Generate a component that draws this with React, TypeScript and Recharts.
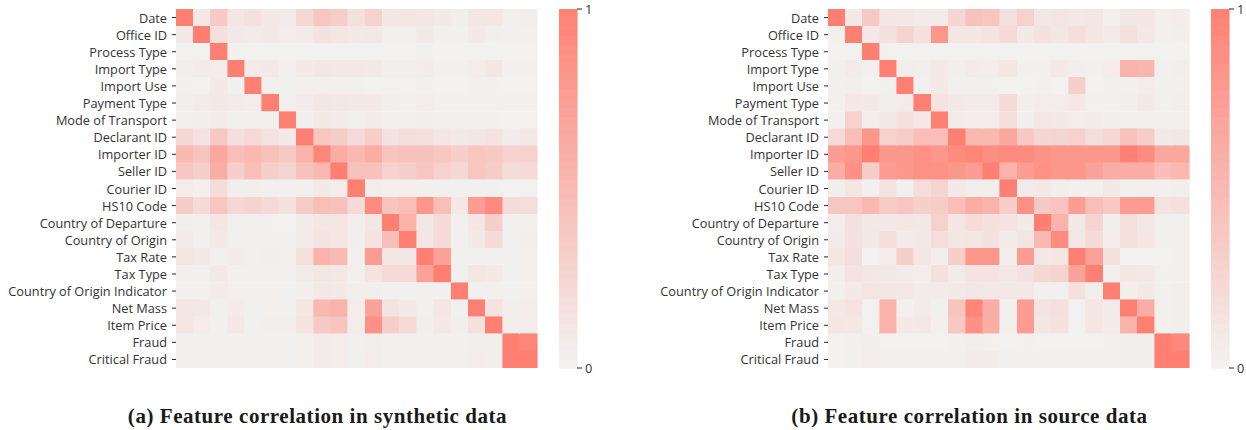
import { BarChart, Bar, XAxis, YAxis, Cell } from "recharts"

const features = [
	"Date",
	"Office ID",
	"Process Type",
	"Import Type",
	"Import Use",
	"Payment Type",
	"Mode of Transport",
	"Declarant ID",
	"Importer ID",
	"Seller ID",
	"Courier ID",
	"HS10 Code",
	"Country of Departure",
	"Country of Origin",
	"Tax Rate",
	"Tax Type",
	"Country of Origin Indicator",
	"Net Mass",
	"Item Price",
	"Fraud",
	"Critical Fraud",
]

const syntheticCorr = [
	[1, 0.08, 0.35, 0.1, 0.14, 0.07, 0.05, 0.22, 0.38, 0.32, 0.14, 0.27, 0.09, 0.11, 0.1, 0.07, 0.03, 0.09, 0.1, 0.02, 0.03],
	[0.06, 1, 0.15, 0.06, 0.05, 0.06, 0.04, 0.05, 0.13, 0.1, 0.07, 0.08, 0.02, 0.02, 0.07, 0.02, 0.01, 0.06, 0.03, 0.01, 0.02],
	[0, 0, 1, 0, 0, 0, 0, 0, 0, 0, 0, 0, 0, 0, 0.01, 0, 0, 0, 0, 0, 0],
	[0.03, 0.05, 0.04, 1, 0.05, 0.06, 0.02, 0.06, 0.09, 0.08, 0.08, 0.07, 0.03, 0.03, 0.05, 0.01, 0.01, 0.04, 0.09, 0.01, 0.01],
	[0.01, 0, 0.07, 0.01, 1, 0.01, 0.01, 0.02, 0.02, 0.02, 0.01, 0, 0, 0, 0.01, 0, 0, 0.01, 0.01, 0, 0],
	[0.03, 0.05, 0.07, 0.05, 0.04, 1, 0.02, 0.05, 0.09, 0.08, 0.07, 0.07, 0.03, 0.02, 0.04, 0.01, 0.01, 0.01, 0.01, 0.01, 0.01],
	[0.02, 0.03, 0.05, 0.01, 0.01, 0.01, 1, 0.03, 0.07, 0.05, 0.02, 0.05, 0.02, 0.02, 0.03, 0.01, 0.01, 0.01, 0.01, 0, 0],
	[0.22, 0.12, 0.35, 0.16, 0.21, 0.12, 0.07, 1, 0.38, 0.33, 0.2, 0.3, 0.13, 0.17, 0.15, 0.1, 0.07, 0.09, 0.12, 0.05, 0.07],
	[0.5, 0.4, 0.65, 0.45, 0.5, 0.42, 0.35, 0.55, 0.95, 0.6, 0.5, 0.6, 0.4, 0.42, 0.42, 0.37, 0.3, 0.38, 0.35, 0.28, 0.28],
	[0.38, 0.3, 0.6, 0.3, 0.45, 0.3, 0.25, 0.42, 0.5, 1, 0.42, 0.42, 0.28, 0.3, 0.38, 0.28, 0.22, 0.38, 0.33, 0.18, 0.2],
	[0.04, 0.02, 0.18, 0.03, 0.03, 0.01, 0.01, 0.02, 0.06, 0.04, 1, 0.04, 0.02, 0.02, 0.01, 0.01, 0.01, 0.01, 0.01, 0, 0],
	[0.33, 0.2, 0.38, 0.22, 0.26, 0.2, 0.15, 0.33, 0.45, 0.42, 0.2, 0.9, 0.4, 0.45, 0.8, 0.45, 0.08, 0.75, 0.9, 0.18, 0.17],
	[0.03, 0.01, 0.1, 0.01, 0.01, 0.01, 0, 0.05, 0.1, 0.1, 0.03, 0.1, 1, 0.55, 0.09, 0.2, 0.01, 0.1, 0.3, 0.01, 0.01],
	[0.05, 0.01, 0.06, 0.01, 0.02, 0.01, 0.01, 0.05, 0.12, 0.1, 0.03, 0.12, 0.45, 1, 0.09, 0.2, 0.01, 0.07, 0.2, 0.01, 0.03],
	[0.1, 0.07, 0.01, 0.05, 0.01, 0.03, 0.02, 0.15, 0.55, 0.48, 0.01, 0.75, 0.1, 0.09, 1, 0.7, 0.01, 0.01, 0.01, 0.01, 0.02],
	[0.02, 0.01, 0.07, 0.02, 0.02, 0.01, 0.01, 0.05, 0.1, 0.08, 0.02, 0.12, 0.2, 0.2, 0.7, 1, 0.01, 0.1, 0.06, 0.01, 0.02],
	[0.02, 0.02, 0.05, 0.02, 0.02, 0.02, 0.01, 0.03, 0.08, 0.06, 0.03, 0.03, 0.01, 0.01, 0.01, 0.01, 1, 0.01, 0.02, 0.01, 0.02],
	[0.1, 0.08, 0.01, 0.05, 0.01, 0.02, 0.01, 0.1, 0.5, 0.55, 0.04, 0.7, 0.12, 0.07, 0.01, 0.1, 0.01, 1, 0.12, 0.03, 0.04],
	[0.1, 0.04, 0.01, 0.08, 0.01, 0.03, 0.03, 0.12, 0.35, 0.4, 0.04, 0.85, 0.3, 0.2, 0.03, 0.08, 0.03, 0.14, 1, 0.03, 0.04],
	[0.01, 0.01, 0.01, 0.01, 0.01, 0.01, 0.01, 0.02, 0.05, 0.04, 0.01, 0.03, 0.01, 0.01, 0.01, 0.01, 0.01, 0.03, 0.03, 1, 0.95],
	[0.01, 0.01, 0.02, 0.01, 0.01, 0.01, 0.01, 0.02, 0.05, 0.04, 0.01, 0.04, 0.01, 0.02, 0.02, 0.01, 0.01, 0.04, 0.03, 1, 1],
]

const sourceCorr = [
	[1, 0.07, 0.35, 0.1, 0.08, 0.05, 0.05, 0.24, 0.42, 0.38, 0.15, 0.28, 0.09, 0.11, 0.08, 0.09, 0.02, 0.09, 0.1, 0.02, 0.04],
	[0.02, 1, 0.08, 0.13, 0.26, 0.15, 0.8, 0.1, 0.1, 0.12, 0.2, 0.07, 0.13, 0.09, 0.16, 0.1, 0.05, 0.14, 0.08, 0.02, 0.03],
	[0, 0, 1, 0, 0, 0, 0, 0, 0, 0, 0, 0, 0, 0, 0, 0, 0, 0, 0, 0, 0],
	[0.02, 0.05, 0.01, 1, 0.04, 0.03, 0.07, 0.03, 0.05, 0.04, 0.1, 0.01, 0.02, 0.06, 0.03, 0.02, 0.04, 0.55, 0.52, 0.01, 0.03],
	[0.01, 0.03, 0, 0.01, 1, 0.01, 0.06, 0.01, 0.01, 0.01, 0, 0, 0.01, 0, 0.3, 0, 0.01, 0.01, 0.04, 0.01, 0.01],
	[0.02, 0.08, 0.06, 0.03, 0.05, 1, 0.12, 0.06, 0.05, 0.05, 0.2, 0.03, 0.04, 0.04, 0.08, 0.02, 0.02, 0.03, 0.06, 0.02, 0.03],
	[0.01, 0.28, 0.03, 0.07, 0.15, 0.08, 1, 0.05, 0.04, 0.04, 0.17, 0.03, 0.08, 0.06, 0.04, 0.05, 0.03, 0.02, 0.02, 0.02, 0.02],
	[0.2, 0.45, 0.8, 0.28, 0.32, 0.45, 0.45, 1, 0.5, 0.5, 0.65, 0.35, 0.24, 0.25, 0.28, 0.17, 0.22, 0.42, 0.32, 0.06, 0.09],
	[0.75, 0.8, 1, 0.8, 0.8, 0.85, 0.8, 0.9, 0.95, 0.87, 0.9, 0.9, 0.83, 0.8, 0.8, 0.8, 0.8, 1, 0.9, 0.65, 0.65],
	[0.6, 0.85, 0.33, 0.75, 0.8, 0.85, 0.85, 0.8, 0.75, 1, 0.55, 0.75, 0.85, 0.8, 0.8, 0.7, 0.6, 0.6, 0.6, 0.45, 0.5],
	[0.03, 0.1, 0.01, 0.12, 0.01, 0.17, 0.25, 0.07, 0.03, 0.03, 1, 0.05, 0.07, 0.03, 0.02, 0.02, 0.06, 0.01, 0.02, 0.02, 0.03],
	[0.38, 0.38, 0.5, 0.33, 0.38, 0.3, 0.33, 0.45, 0.6, 0.55, 0.3, 0.85, 0.35, 0.4, 0.75, 0.45, 0.35, 0.75, 0.75, 0.12, 0.15],
	[0.04, 0.15, 0.07, 0.06, 0.1, 0.08, 0.27, 0.1, 0.18, 0.14, 0.12, 0.07, 1, 0.55, 0.06, 0.25, 0.03, 0.14, 0.08, 0.01, 0.01],
	[0.05, 0.13, 0.08, 0.16, 0.05, 0.07, 0.17, 0.1, 0.11, 0.13, 0.05, 0.11, 0.5, 0.9, 0.08, 0.2, 0.04, 0.14, 0.1, 0.01, 0.02],
	[0.1, 0.17, 0, 0.04, 0.3, 0.09, 0.03, 0.3, 0.8, 0.8, 0.03, 0.75, 0.08, 0.1, 1, 0.7, 0.13, 0, 0, 0, 0.01],
	[0.03, 0.12, 0.1, 0.07, 0.05, 0.04, 0.14, 0.05, 0.12, 0.12, 0.08, 0.13, 0.22, 0.26, 0.7, 1, 0.02, 0.1, 0.08, 0.01, 0.02],
	[0.02, 0.06, 0.11, 0.09, 0.08, 0.05, 0.05, 0.07, 0.09, 0.08, 0.08, 0.08, 0.02, 0.01, 0.14, 0.03, 1, 0.03, 0.06, 0.02, 0.03],
	[0.08, 0.12, 0, 0.55, 0.01, 0.05, 0.01, 0.4, 0.95, 0.6, 0.01, 0.75, 0.12, 0.15, 0, 0.1, 0.05, 1, 0.6, 0.02, 0.03],
	[0.1, 0.08, 0, 0.55, 0.06, 0.08, 0.02, 0.35, 0.85, 0.6, 0.02, 0.75, 0.1, 0.13, 0, 0.1, 0.05, 0.55, 1, 0.02, 0.03],
	[0, 0.01, 0.03, 0, 0, 0, 0, 0.02, 0.03, 0.02, 0, 0.01, 0, 0, 0, 0, 0.02, 0.03, 0.03, 1, 0.93],
	[0, 0.01, 0.04, 0.01, 0.01, 0.01, 0.01, 0.02, 0.05, 0.05, 0.01, 0.01, 0.01, 0.01, 0.01, 0.01, 0.02, 0.03, 0.03, 1, 1],
]

// colour bar levels, bottom to top
const barLevels = [
	0, 0.025, 0.05, 0.075, 0.1, 0.125, 0.15, 0.175, 0.2, 0.225, 0.25, 0.275, 0.3, 0.325, 0.35, 0.375, 0.4, 0.425, 0.45,
	0.475, 0.5, 0.525, 0.55, 0.575, 0.6, 0.625, 0.65, 0.675, 0.7, 0.725, 0.75, 0.775, 0.8, 0.825, 0.85, 0.875, 0.9, 0.925,
	0.95, 0.975,
]

const low = [242, 241, 240]
const high = [255, 128, 114]

function shade(v: number) {
	const c = low.map((l, i) => Math.round(l + (high[i] - l) * v))
	return `rgb(${c[0]},${c[1]},${c[2]})`
}

// plain <text> so recharts does not wrap the long label
function AxisTick({ x, y, payload, textAnchor }: any) {
	return (
		<text x={x} y={y} dy={5} textAnchor={textAnchor} fill="#333" fontSize={12.75} fontFamily="Open Sans">
			{payload.value}
		</text>
	)
}

function Heatmap({ matrix, left, title }: { matrix: number[][]; left: number; title: string }) {
	const rows = features.map((name) => {
		const row: Record<string, string | number> = { name }
		features.forEach((_, c) => {
			row[`c${c}`] = 1
		})
		return row
	})
	const barRow = [Object.fromEntries([["name", "bar"], ...barLevels.map((_, i) => [`l${i}`, 1 / barLevels.length])])]

	return (
		<div style={{ position: "absolute", left, top: 0, width: 620, height: 430 }}>
			<BarChart
				width={543}
				height={375}
				data={rows}
				layout="vertical"
				barCategoryGap={0}
				margin={{ top: 9, right: 6, bottom: 7, left: 0 }}
			>
				<XAxis type="number" hide domain={[0, features.length]} />
				<YAxis
					type="category"
					dataKey="name"
					width={176}
					interval={0}
					tickSize={4}
					tickMargin={5}
					axisLine={false}
					tick={AxisTick}
					tickLine={{ stroke: "#262626" }}
				/>
				{features.map((_, c) => (
					<Bar key={c} dataKey={`c${c}`} stackId="m" isAnimationActive={false} shapeRendering="crispEdges">
						{matrix.map((row, r) => (
							<Cell key={r} fill={shade(row[c])} stroke={shade(row[c])} strokeWidth={0.6} />
						))}
					</Bar>
				))}
			</BarChart>
			<div style={{ position: "absolute", left: 559, top: 0 }}>
				<BarChart
					width={50}
					height={395}
					data={barRow}
					barCategoryGap={0}
					margin={{ top: 9, right: 0, bottom: 27, left: 0 }}
				>
					<XAxis dataKey="name" hide />
					<YAxis
						orientation="right"
						domain={[0, 1]}
						ticks={[0, 1]}
						interval={0}
						width={32}
						tickSize={5}
						tickMargin={3}
						axisLine={false}
						tick={AxisTick}
						tickLine={{ stroke: "#262626" }}
					/>
					{barLevels.map((v, i) => (
						<Bar
							key={i}
							dataKey={`l${i}`}
							stackId="cb"
							fill={shade(v)}
							stroke={shade(v)}
							strokeWidth={0.6}
							isAnimationActive={false}
							shapeRendering="crispEdges"
						/>
					))}
				</BarChart>
			</div>
			<div
				style={{
					position: "absolute",
					left: 0,
					top: 404,
					width: 635,
					textAlign: "center",
					fontFamily: "Liberation Serif",
					fontWeight: 700,
					fontSize: 21,
					letterSpacing: 0.55,
					color: "#1a1a1a",
					whiteSpace: "nowrap",
				}}
			>
				{title}
			</div>
		</div>
	)
}

export default function App() {
	return (
		<div style={{ position: "absolute", left: 0, top: 0, width: 1246, height: 430, background: "#fff", overflow: "hidden" }}>
			<Heatmap matrix={syntheticCorr} left={0} title="(a) Feature correlation in synthetic data" />
			<Heatmap matrix={sourceCorr} left={652} title="(b) Feature correlation in source data" />
		</div>
	)
}
